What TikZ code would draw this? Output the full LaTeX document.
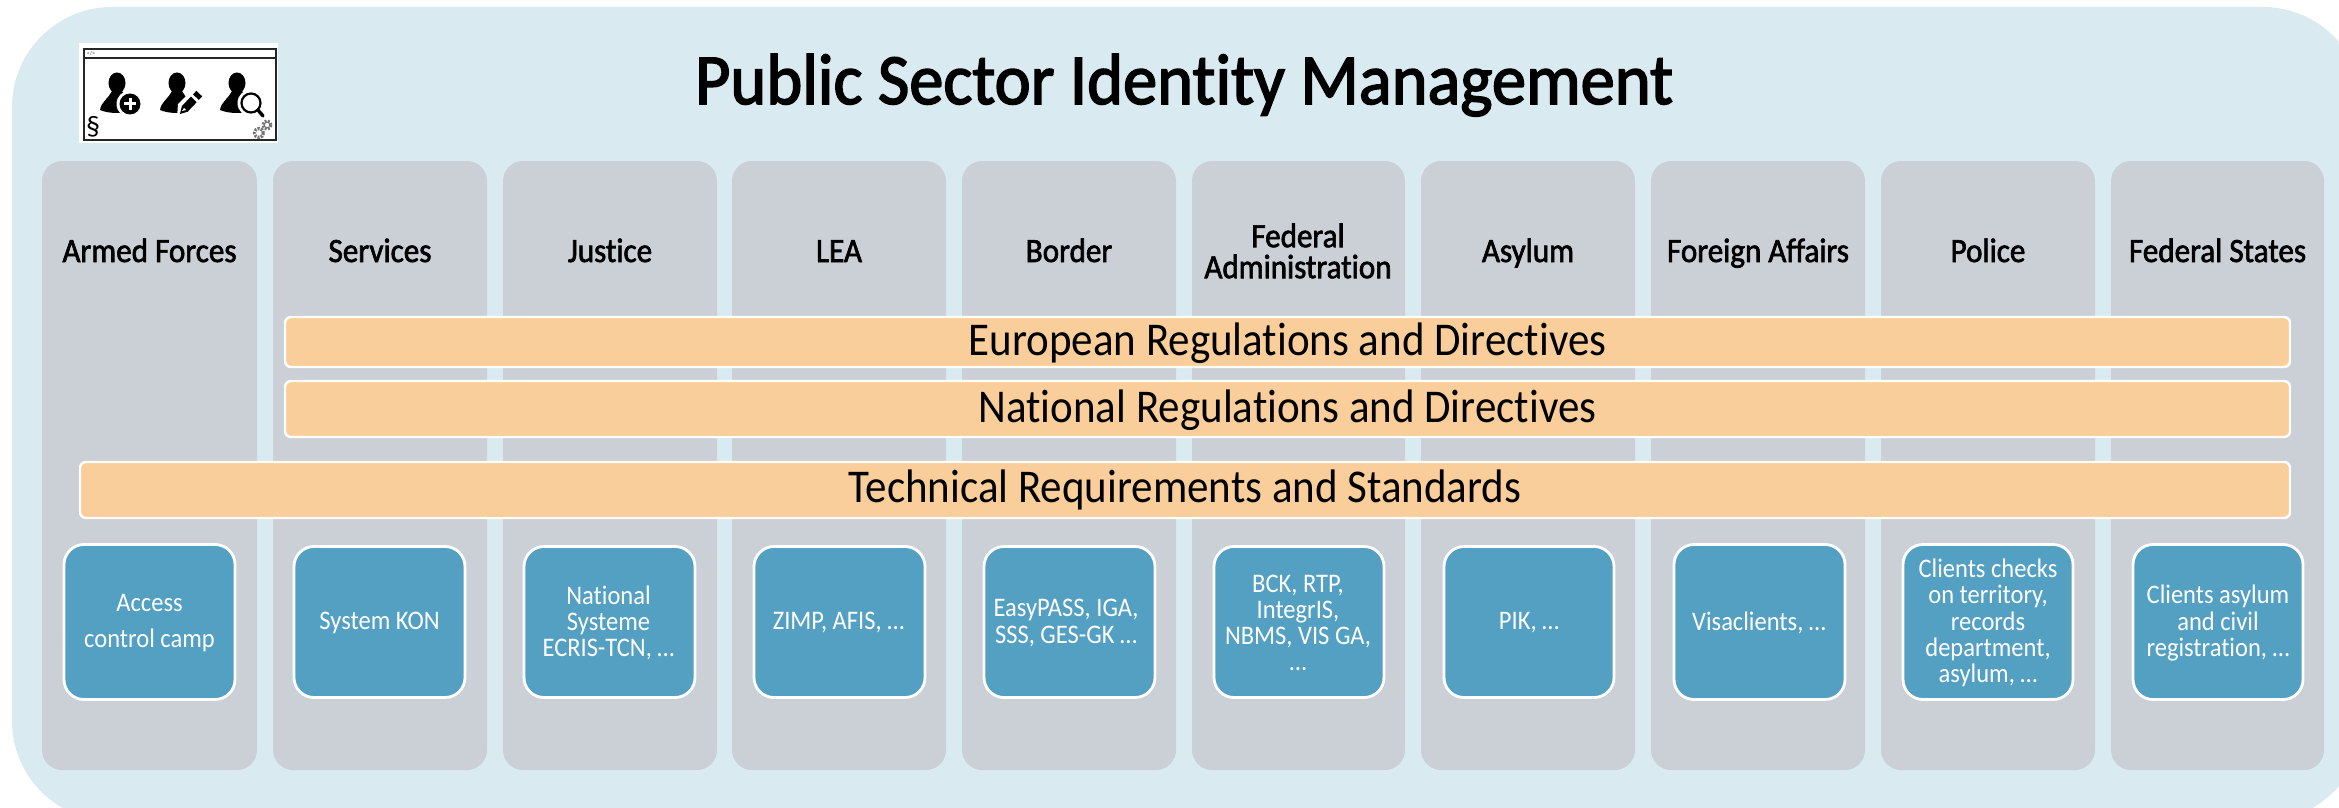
\documentclass[tikz,border=0pt]{standalone}
\usepackage{fontspec}
\setmainfont[Ligatures=NoCommon]{Carlito}
\newfontface\medium[Ligatures=NoCommon,FakeBold=1.9,FakeStretch=0.915]{Carlito}
\newfontface\medtitle[Ligatures=NoCommon,FakeBold=2.2,FakeStretch=0.95]{Carlito}
\newfontface\barfont[Ligatures=NoCommon,FakeStretch=0.915]{Carlito}
\newfontface\sysfont[Ligatures=NoCommon,FakeStretch=0.915]{Carlito}
\definecolor{bgc}{HTML}{DAEAF1}
\definecolor{colc}{HTML}{CBCFD6}
\definecolor{barc}{HTML}{F9CE9B}
\definecolor{boxc}{HTML}{53A0C2}
\tikzset{
 x=0.5pt,y=-0.5pt,
 col/.style={fill=colc,draw=none,rounded corners=10pt},
 head/.style={font=\fontsize{17}{15.5}\selectfont\medium,align=center,text=black},
 bar/.style={fill=barc,draw=white,line width=1.2pt,rounded corners=3pt},
 bartext/.style={font=\fontsize{23.5}{26}\selectfont\barfont,text=black},
 sys/.style={fill=boxc,draw=white,line width=1.4pt,rounded corners=10pt},
 systext/.style={font=\fontsize{13.4}{13.1}\selectfont\sysfont,align=center,text=white},
}
\newcommand{\person}[2]{\fill[black] (#1,#2) ellipse (8.5 and 10.5);
 \fill[black] (#1-17,#2+27) .. controls (#1-16,#2+19) and (#1-8,#2+15) .. (#1-5,#2+8) -- (#1+5,#2+8) .. controls (#1+8,#2+15) and (#1+16,#2+19) .. (#1+18,#2+27) .. controls (#1+8,#2+31) and (#1-8,#2+31) .. (#1-17,#2+27) -- cycle;}
\begin{document}
\begin{tikzpicture}
\useasboundingbox (0,0) rectangle (2339,808);
\begin{scope}
\clip (0,0) rectangle (2339,808);
\fill[bgc,rounded corners=50pt] (12,7) rectangle (2363,821);
\end{scope}
\node[font=\fontsize{36}{40}\selectfont\medtitle,text=black,anchor=base] (title) at (1184,104) {Public Sector Identity Management};
\foreach \n/\xa/\xb/\t in {c1/42/257/Armed Forces,c2/273/487/Services,c3/503/717/Justice,c4/732/946/LEA,c5/962/1176/Border,c7/1421/1635/Asylum,c8/1651/1865/Foreign Affairs,c9/1881/2095/Police,c10/2111/2324/Federal States}{
 \fill[col] (\xa,161) rectangle (\xb,770);
 \node[head,anchor=base] (h\n) at ({(\xa+\xb)/2},262) {\t};
}
\fill[col] (1192,161) rectangle (1405,770);
\node[head] (hc6) at (1298,251) {Federal\\Administration};
\draw[bar] (285,317) rectangle (2290,367);
\node[bartext,anchor=base] (b1) at (1287.5,355) {European Regulations and Directives};
\draw[bar] (285,381) rectangle (2290,437);
\node[bartext,anchor=base] (b2) at (1287.5,422) {National Regulations and Directives};
\draw[bar] (80,462) rectangle (2290,518);
\node[bartext,anchor=base] (b3) at (1185,502) {Technical Requirements and Standards};
\foreach \n/\xa/\ya/\xb/\yb/\t/\tx in {
 s1/64/544.5/235/699.5/{Access\\[5pt]control camp}/149.5,
 s2/294/546.5/465/697.5/{System KON}/379.5,
 s3/524/546.5/695/697.5/{National\\Systeme\\ECRIS-TCN, …}/608.5,
 s4/754/546.5/925/697.5/{ZIMP, AFIS, …}/838.5,
 s5/984/546.5/1155/697.5/{EasyPASS, IGA,\\SSS, GES-GK …}/1066,
 s6/1214/546.5/1384/697.5/{BCK, RTP,\\IntegrIS,\\NBMS, VIS GA,\\…}/1298,
 s7/1444/546.5/1614/697.5/{PIK, …}/1529,
 s8/1674/544.5/1845/699.5/{Visaclients, …}/1759,
 s9/1903/544.5/2073/699.5/{Clients checks\\on territory,\\records\\department,\\asylum, …}/1988,
 s10/2133/544.5/2303/699.5/{Clients asylum\\and civil\\registration, …}/2218}{
 \draw[sys] (\xa,\ya) rectangle (\xb,\yb);
 \node[systext] (\n) at (\tx,{(\ya+\yb)/2+1}) {\t};
}
% icon
\fill[white] (79,43) rectangle (278,143);
\draw[black!85,line width=1pt] (84,49) rectangle (276,140);
\draw[black!85,line width=1pt] (84,58.5) -- (276,58.5);
\node[font=\fontsize{3}{3}\selectfont,text=black!70] (ic) at (91,54) {</>};
\person{117}{83}
\person{177}{83}
\person{237}{83}
% plus badge
\fill[white] (130,104) circle (13.5);
\fill[black] (130,104) circle (10.5);
\fill[white] (124,102.5) rectangle (136,105.5);
\fill[white] (128.5,98) rectangle (131.5,110);
% pencil
\fill[white] (177,118) -- (178,104) -- (195,87) -- (206,97) -- (190,115) -- cycle;
\fill[black] (180,114) -- (187.7,111.7) -- (196.7,102.2) -- (190.9,96.6) -- (181.9,106.1) -- cycle;
\fill[black] (198.8,99.9) -- (193,94.4) -- (196.4,90.8) -- (202.2,96.4) -- cycle;
\fill[white] (182,111) -- (184,108) -- (186,110) -- cycle;
% magnifier
\fill[white] (251,103) circle (13.5);
\draw[black,line width=1.1pt,fill=white] (251,103) circle (9.5);
\draw[black,line width=1.7pt,line cap=round] (258,110) -- (263,116);
\node[font=\fontsize{14}{14}\selectfont,text=black] (par) at (93,127) {§};
\foreach \cx/\cy/\r in {259/133/4.5,267/125/4}{
 \draw[black!55,line width=1.6pt,dash pattern=on 1pt off 0.6pt] (\cx,\cy) circle (\r);
}
\end{tikzpicture}
\end{document}
